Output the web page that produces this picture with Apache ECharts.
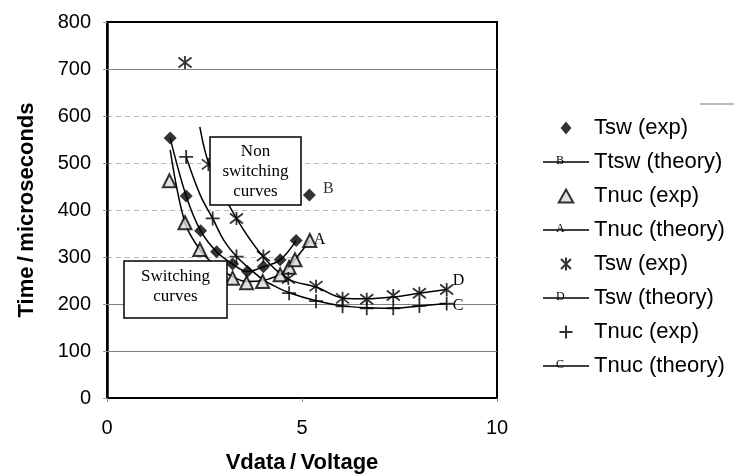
<!DOCTYPE html>
<html>
<head>
<meta charset="utf-8">
<script src="https://cdn.jsdelivr.net/npm/echarts@6/dist/echarts.min.js"></script>
<style>
  html, body { margin: 0; padding: 0; background: #fff; }
  #main { width: 734px; height: 476px; }
</style>
</head>
<body>
<div id="main"></div>
<script>
// ---- data (Vdata in volts, time in microseconds) ----
// switching curves
var vTswExp = [1.62, 2.03, 2.40, 2.81, 3.22, 3.60, 4.01, 4.44, 4.85, 5.19];
var tTswExp = [553, 430, 356, 311, 285, 269, 279, 294, 335, 432];
var vTswTheoryB = [1.62, 2.03, 2.40, 2.81, 3.22, 3.60, 4.01, 4.44, 4.85];
var tTswTheoryB = [553, 430, 356, 311, 285, 269, 279, 294, 335];
var vTnucExp = [1.60, 2.00, 2.38, 3.22, 3.58, 3.99, 4.44, 4.67, 4.82, 5.20];
var tTnucExp = [462, 373, 316, 255, 245, 248, 262, 278, 294, 335];
var vTnucTheoryA = [1.62, 2.00, 2.38, 2.80, 3.22, 3.58, 3.99, 4.44, 4.67, 4.82, 5.20];
var tTnucTheoryA = [528, 373, 316, 280, 258, 248, 250, 263, 278, 294, 335];
// non switching curves
var vTswExp2 = [2.00, 2.60, 3.32, 4.01, 4.65, 5.36, 6.04, 6.66, 7.34, 8.01, 8.71];
var tTswExp2 = [714, 497, 382, 302, 254, 238, 212, 210, 218, 223, 231];
var vTswTheoryD = [2.38, 2.64, 3.32, 4.01, 4.65, 5.36, 6.04, 6.66, 7.34, 8.01, 8.71];
var tTswTheoryD = [577, 492, 382, 300, 253, 236, 213, 211, 215, 223, 231];
var vTnucExp2 = [2.03, 2.71, 3.32, 4.67, 5.36, 6.04, 6.66, 7.34, 8.01, 8.71];
var tTnucExp2 = [513, 382, 301, 223, 206, 195, 191, 191, 196, 201];
var vTnucTheoryC = [2.03, 2.40, 2.71, 3.00, 3.32, 3.70, 4.00, 4.30, 4.67, 5.36, 6.04, 6.66, 7.34, 8.01, 8.71];
var tTnucTheoryC = [513, 430, 382, 335, 301, 272, 252, 238, 224, 207, 196, 192, 191, 196, 201];

var yTicks = [0, 100, 200, 300, 400, 500, 600, 700, 800];
var xTicks = [0, 5, 10];
var solidGridValues = [100, 200, 700];

var legendNames = ['Tsw (exp)', 'Ttsw (theory)', 'Tnuc (exp)', 'Tnuc (theory)',
                   'Tsw (exp)\u200b', 'Tsw (theory)', 'Tnuc (exp)\u200b', 'Tnuc (theory)\u200b'];
var theoryLetters = ['B', 'A', 'D', 'C'];

var diamondPath = 'path://M5,0L10,6L5,12L0,6Z';
var trianglePath = 'path://M5,0L10,9L0,9Z';
var starPath = 'path://M0,0L10,10M10,0L0,10M5,-1.5L5,11.5';
var plusPath = 'path://M6,0L6,12M0,6L12,6';
var lineIcon = 'path://M0,0L46,0L46,1.6L0,1.6Z';

function pairs(xs, ys) {
    return xs.map(function (x, i) { return [x, ys[i]]; });
}
var letterFont = { fontFamily: 'Liberation Serif', fontSize: 16, color: '#000' };

function theory(name, xs, ys, letter, offset) {
    return {
        name: name, type: 'line', smooth: 0.35, symbol: 'none',
        lineStyle: { color: '#000', width: 1.5 },
        itemStyle: { color: '#000' },
        endLabel: Object.assign({ show: !!letter, formatter: letter || '', offset: offset || [0, 0], distance: 4 }, letterFont),
        data: pairs(xs, ys), z: 2
    };
}

var diamonds = pairs(vTswExp, tTswExp);
var lastD = diamonds.length - 1;
diamonds[lastD] = {
    value: diamonds[lastD],
    label: Object.assign({ show: true, formatter: 'B', position: 'right', offset: [2, -6] }, letterFont)
};

var myChart = echarts.init(document.getElementById('main'));
myChart.setOption({
    animation: false,
    backgroundColor: '#fff',
    grid: {
        left: 107, right: 237, top: 22, bottom: 78,
        outerBoundsMode: 'none', containLabel: false,
        show: true, borderColor: '#000', borderWidth: 2
    },
    xAxis: {
        type: 'value', min: 0, max: 10, interval: 5,
        name: 'Vdata\u2009/\u2009Voltage', nameLocation: 'middle', nameGap: 54,
        nameTextStyle: { fontFamily: 'Liberation Sans', fontWeight: 'bold', fontSize: 22, color: '#000' },
        axisLine: { lineStyle: { color: '#000', width: 2 } },
        axisTick: { show: true, length: 4, lineStyle: { color: '#888' } },
        axisLabel: {
            fontFamily: 'Liberation Sans', fontSize: 20, color: '#000', margin: 20,
            formatter: function (v) { return xTicks.indexOf(v) >= 0 ? String(v) : ''; }
        },
        splitLine: { show: false }
    },
    yAxis: {
        type: 'value', min: 0, max: 800, interval: 100,
        name: 'Time\u2009/\u2009microseconds', nameLocation: 'middle', nameGap: 69,
        nameTextStyle: { fontFamily: 'Liberation Sans', fontWeight: 'bold', fontSize: 22, color: '#000' },
        axisLine: { lineStyle: { color: '#000', width: 2.5 } },
        axisTick: { show: true, length: 4, lineStyle: { color: '#999' } },
        axisLabel: {
            fontFamily: 'Liberation Sans', fontSize: 20, color: '#000', margin: 16,
            formatter: function (v) { return yTicks.indexOf(v) >= 0 ? String(v) : ''; }
        },
        splitLine: { show: true, lineStyle: { color: '#b8b8b8', width: 1, type: [5, 4] } }
    },
    legend: {
        orient: 'vertical', left: 538, top: 112,
        itemWidth: 46, itemHeight: 13, itemGap: 12,
        symbolKeepAspect: true,
        selectedMode: false,
        data: legendNames.map(function (n, i) {
            return i % 2 === 1 ? { name: n, icon: lineIcon, itemStyle: { color: '#000' } } : { name: n };
        }),
        textStyle: { fontFamily: 'Liberation Sans', fontSize: 22, color: '#000' },
        formatter: function (n) { return n.replace('\u200b', ''); }
    },
    series: [
        {
            name: legendNames[0], type: 'scatter', symbol: diamondPath, symbolSize: 13,
            itemStyle: { color: '#000' },
            data: diamonds, z: 5,
            markLine: {
                silent: true, symbol: 'none', label: { show: false },
                lineStyle: { color: '#808080', width: 1, type: 'solid' },
                data: solidGridValues.map(function (v) { return { yAxis: v }; })
                    .concat([{ yAxis: 800, lineStyle: { color: '#000', width: 2, type: 'solid' } }]),
                z: 1
            }
        },
        theory(legendNames[1], vTswTheoryB, tTswTheoryB),
        {
            name: legendNames[2], type: 'scatter', symbol: trianglePath, symbolSize: 13,
            itemStyle: { color: '#d8d8d8', borderColor: '#000', borderWidth: 2 },
            data: pairs(vTnucExp, tTnucExp), z: 5
        },
        theory(legendNames[3], vTnucTheoryA, tTnucTheoryA, 'A', [0, -1]),
        {
            name: legendNames[4], type: 'scatter', symbol: starPath, symbolSize: 13,
            itemStyle: { color: 'rgba(0,0,0,0)', borderColor: '#000', borderWidth: 1.8 },
            data: pairs(vTswExp2, tTswExp2), z: 5
        },
        theory(legendNames[5], vTswTheoryD, tTswTheoryD, 'D', [2, -9]),
        {
            name: legendNames[6], type: 'scatter', symbol: plusPath, symbolSize: 14,
            itemStyle: { color: 'rgba(0,0,0,0)', borderColor: '#000', borderWidth: 1.8 },
            data: pairs(vTnucExp2, tTnucExp2), z: 5
        },
        theory(legendNames[7], vTnucTheoryC, tTnucTheoryC, 'C', [2, 2])
    ],
    graphic: [
        // "Non switching curves" annotation
        { type: 'rect', z: 100, shape: { x: 210, y: 137, width: 91, height: 68 },
          style: { fill: '#fff', stroke: '#000', lineWidth: 1.5 } },
        { type: 'text', z: 101, left: 214, top: 142,
          style: { text: 'Non\nswitching\ncurves', width: 83, align: 'center', textAlign: 'center',
                   font: '17px "Liberation Serif"', lineHeight: 20, fill: '#000', x: 41 } },
        // "Switching curves" annotation
        { type: 'rect', z: 100, shape: { x: 124, y: 261, width: 103, height: 57 },
          style: { fill: '#fff', stroke: '#000', lineWidth: 1.5 } },
        { type: 'text', z: 101, left: 128, top: 267,
          style: { text: 'Switching\ncurves', width: 95, align: 'center', textAlign: 'center',
                   font: '17px "Liberation Serif"', lineHeight: 20, fill: '#000', x: 47 } }
    ].concat([
        // legend frame remnant
        { type: 'line', z: 50, shape: { x1: 700, y1: 104, x2: 734, y2: 104 },
          style: { stroke: '#777', lineWidth: 1 } }
    ]).concat(theoryLetters.map(function (t, i) {
        // letters sitting on the theory lines in the legend
        return { type: 'text', z: 60, left: 556, top: 155 + i * 68,
                 style: { text: t, font: '12px "Liberation Serif"', fill: '#000' } };
    }))
});
</script>
</body>
</html>
